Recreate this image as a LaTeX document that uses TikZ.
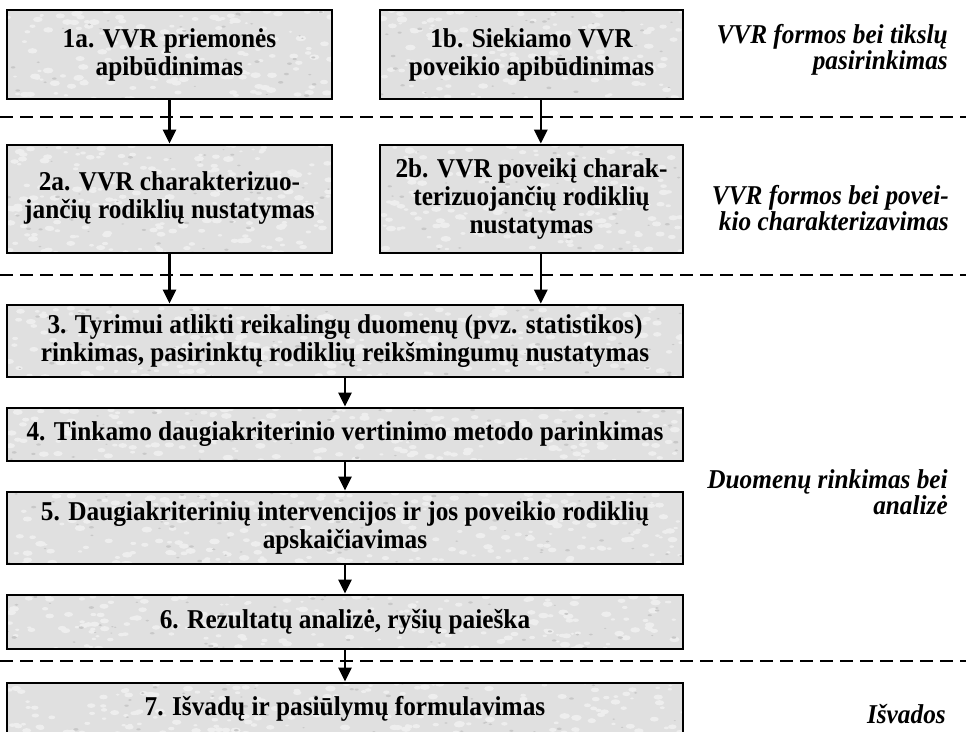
\documentclass[tikz,border=0pt]{standalone}
\usepackage{fontspec}
\setmainfont{Liberation Serif}[FakeStretch=0.93]
\usetikzlibrary{arrows.meta}
\definecolor{boxfill}{RGB}{224,224,224}
\definecolor{paperlight}{RGB}{238,238,238}
\definecolor{paperdark}{RGB}{200,200,200}
\begin{document}
\begin{tikzpicture}[x=0.75pt,y=-0.75pt,
  % mottled paper texture, clipped to the box outline
  mottled/.style={path picture={
    \pgfpointanchor{path picture bounding box}{south west}\pgfgetlastxy{\xa}{\ya}
    \pgfpointanchor{path picture bounding box}{north east}\pgfgetlastxy{\xb}{\yb}
    \pgfmathtruncatemacro\nb{abs((\xb-\xa)/100*(\yb-\ya))}
    \foreach \k in {1,...,\nb}{
      \pgfmathsetmacro\ux{\xa+rnd*(\xb-\xa)}
      \pgfmathsetmacro\uy{\ya+rnd*(\yb-\ya)}
      \pgfmathsetmacro\sz{1.4+2.6*rnd}
      \fill[paperlight] (\ux pt,\uy pt) ellipse ({\sz pt} and {0.55*\sz pt});
    }
    \pgfmathtruncatemacro\nd{abs((\xb-\xa)/380*(\yb-\ya))}
    \foreach \k in {1,...,\nd}{
      \pgfmathsetmacro\ux{\xa+rnd*(\xb-\xa)}
      \pgfmathsetmacro\uy{\ya+rnd*(\yb-\ya)}
      \pgfmathsetmacro\sz{0.8+1.2*rnd}
      \fill[paperdark] (\ux pt,\uy pt) ellipse ({\sz pt} and {0.5*\sz pt});
    }
  }},
  box/.style={draw=black, line width=2.2pt, fill=boxfill, mottled, inner sep=0pt,
    align=center, font=\fontsize{20.4}{21}\selectfont\bfseries},
  side/.style={font=\fontsize{20.4}{19.5}\selectfont\bfseries\itshape,
    align=right, anchor=east, inner sep=0pt},
  sep/.style={line width=2.2pt, dash pattern=on 9.5pt off 5.5pt},
  arr/.style={line width=1.6pt, -{Triangle[width=10pt,length=10.5pt]}}]
\pgfmathsetseed{4711}
\useasboundingbox (0,0) rectangle (966,731);
\clip (0,0) rectangle (966,731);

% stage separators
\draw[sep] (0,117) -- (966,117);
\draw[sep] (0,275) -- (966,275);
\draw[sep] (0,661) -- (966,661);

% process boxes
\node[box, minimum width=243.75pt, minimum height=66.75pt] (b1a) at (169.5,54.5)
  {1a. VVR priemonės\\apibūdinimas};
\node[box, minimum width=227.25pt, minimum height=66.75pt] (b1b) at (531.5,54.5)
  {1b. Siekiamo VVR\\poveikio apibūdinimas};
\node[box, minimum width=243.75pt, minimum height=81pt] (b2a) at (169.5,199)
  {\raisebox{3pt}{\begin{tabular}{@{}c@{}}2a. VVR charakterizuo-\\jančių rodiklių nustatymas\end{tabular}}};
\node[box, minimum width=227.25pt, minimum height=81pt] (b2b) at (531.5,199)
  {2b. VVR poveikį charak-\\terizuojančių rodiklių\\nustatymas};
\node[box, minimum width=507pt, minimum height=54pt] (b3) at (345,341)
  {3. Tyrimui atlikti reikalingų duomenų (pvz. statistikos)\\rinkimas, pasirinktų rodiklių reikšmingumų nustatymas};
\node[box, minimum width=507pt, minimum height=39.75pt] (b4) at (345,434.5)
  {4. Tinkamo daugiakriterinio vertinimo metodo parinkimas};
\node[box, minimum width=507pt, minimum height=54pt] (b5) at (345,528)
  {5. Daugiakriterinių intervencijos ir jos poveikio rodiklių\\apskaičiavimas};
\node[box, minimum width=507pt, minimum height=40.5pt] (b6) at (345,622)
  {6. Rezultatų analizė, ryšių paieška};
\node[box, minimum width=507pt, minimum height=39pt] (b7) at (345,709)
  {7. Išvadų ir pasiūlymų formulavimas};

% flow arrows
\draw[arr] (b1a.south) -- (b2a.north);
\draw[arr] ([xshift=7pt]b1b.south) -- ([xshift=7pt]b2b.north);
\draw[arr] (b2a.south) -- (b2a.south |- b3.north);
\draw[arr] ([xshift=7pt]b2b.south) -- ([xshift=7pt]b2b.south |- b3.north);
\draw[arr] (b3.south) -- (b4.north);
\draw[arr] (b4.south) -- (b5.north);
\draw[arr] (b5.south) -- (b6.north);
\draw[arr] (b6.south) -- (b7.north);

% stage names
\node[side] (s1) at (948,50) {VVR formos bei tikslų\\pasirinkimas};
\node[side] (s2) at (949,208) {VVR formos bei povei-\\kio charakterizavimas};
\node[side] (s3) at (948,492) {Duomenų rinkimas bei\\analizė};
\node[side] (s4) at (946,714) {Išvados};
\end{tikzpicture}
\end{document}
